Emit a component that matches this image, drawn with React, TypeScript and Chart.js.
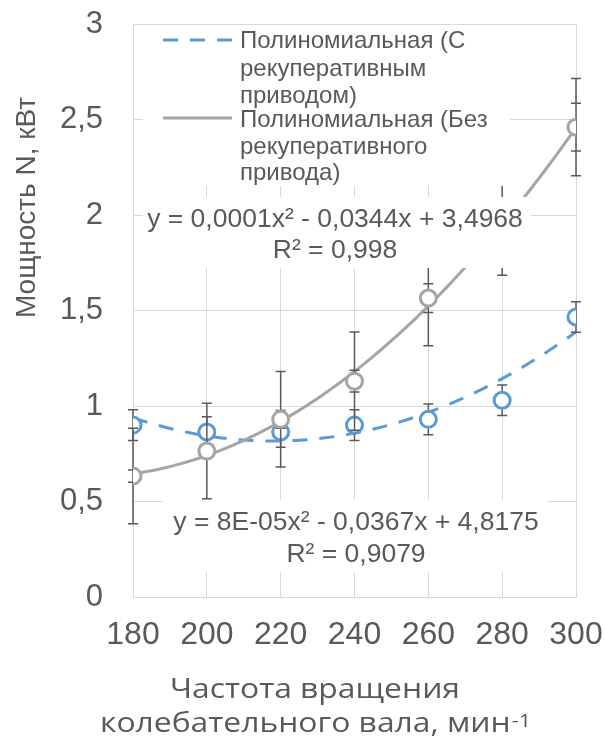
import React, { useEffect, useRef } from 'react';
import { Chart, registerables } from 'chart.js';

Chart.register(...registerables);

// ---------- data ----------
const xValues = [180, 200, 220, 240, 260, 280, 300];
const xTickLabels = ['180', '200', '220', '240', '260', '280', '300'];
const yTickValues = [0, 0.5, 1, 1.5, 2, 2.5, 3];
const yTickLabels = ['0', '0,5', '1', '1,5', '2', '2,5', '3'];

// С рекуперативным приводом (blue)
const withRecup = [0.9, 0.864, 0.864, 0.9, 0.93, 1.03, 1.466];
const withRecupErr = [0.08, 0.08, 0.08, 0.08, 0.08, 0.08, 0.08];

// Без рекуперативного привода (gray)
const withoutRecup = [0.633, 0.764, 0.93, 1.13, 1.565, 1.935, 2.46];
const withoutRecupErrLarge = [0.25, 0.25, 0.25, 0.257, 0.25, 0.25, 0.255];
const withoutRecupErrSmall = [0.032, 0.038, 0.047, 0.057, 0.075, 0.097, 0.125];

const legendWith = ['Полиномиальная (С', 'рекуперативным', 'приводом)'];
const legendWithout = ['Полиномиальная (Без', 'рекуперативного', 'привода)'];
const eqWithout = ['y = 0,0001x² - 0,0344x + 3,4968', 'R² = 0,998'];
const eqWith = ['y = 8E-05x² - 0,0367x + 4,8175', 'R² = 0,9079'];
const yTitle = 'Мощность N, кВт';
const xTitleLine1 = 'Частота вращения';
const xTitleLine2 = 'колебательного вала, мин';
const xTitleSup = '-1';

// ---------- styles ----------
const BLUE = '#5B9BD5';
const GRAY = '#A5A5A5';
const TEXT = '#595959';
const GRID = '#D9D9D9';
const ERR = '#595959';
const ARIAL = '"Liberation Sans", Arial, sans-serif';
const CAL = '"Open Sans", "Noto Sans", sans-serif';

// least-squares quadratic fit (polynomial trendline, as Excel draws it)
function polyfit2(xs: number[], ys: number[]) {
  const n = xs.length;
  const m = xs.reduce((a, b) => a + b, 0) / n;
  const u = xs.map((x) => x - m);
  let s1 = 0, s2 = 0, s3 = 0, s4 = 0, t0 = 0, t1 = 0, t2 = 0;
  for (let i = 0; i < n; i++) {
    const a = u[i];
    s1 += a; s2 += a * a; s3 += a * a * a; s4 += a * a * a * a;
    t0 += ys[i]; t1 += a * ys[i]; t2 += a * a * ys[i];
  }
  const M = [
    [n, s1, s2, t0],
    [s1, s2, s3, t1],
    [s2, s3, s4, t2],
  ];
  for (let c = 0; c < 3; c++) {
    let p = c;
    for (let r = c + 1; r < 3; r++) if (Math.abs(M[r][c]) > Math.abs(M[p][c])) p = r;
    [M[c], M[p]] = [M[p], M[c]];
    for (let r = 0; r < 3; r++) {
      if (r === c) continue;
      const f = M[r][c] / M[c][c];
      for (let k = c; k < 4; k++) M[r][k] -= f * M[c][k];
    }
  }
  const c0 = M[0][3] / M[0][0], c1 = M[1][3] / M[1][1], c2 = M[2][3] / M[2][2];
  return (x: number) => c0 + c1 * (x - m) + c2 * (x - m) * (x - m);
}

function trendPoints(xs: number[], ys: number[]) {
  const f = polyfit2(xs, ys);
  const pts: { x: number; y: number }[] = [];
  for (let x = xs[0]; x <= xs[xs.length - 1]; x += 1) pts.push({ x, y: f(x) });
  return pts;
}

function drawErrorBars(chart: any, values: number[], errs: number[], cap: number, drawStem: boolean) {
  const ctx = chart.ctx;
  const xs = chart.scales.x;
  const ys = chart.scales.y;
  ctx.save();
  ctx.strokeStyle = ERR;
  ctx.lineWidth = 1.5;
  for (let i = 0; i < values.length; i++) {
    const px = xs.getPixelForValue(xValues[i]);
    const top = ys.getPixelForValue(values[i] + errs[i]);
    const bot = ys.getPixelForValue(values[i] - errs[i]);
    ctx.beginPath();
    if (drawStem) {
      ctx.moveTo(px, top);
      ctx.lineTo(px, bot);
    }
    ctx.moveTo(px - cap, top);
    ctx.lineTo(px + cap, top);
    ctx.moveTo(px - cap, bot);
    ctx.lineTo(px + cap, bot);
    ctx.stroke();
  }
  ctx.restore();
}

const overlayPlugin = {
  id: 'overlay',
  beforeDatasetDraw(chart: any, args: any) {
    if (args.index === 1) drawErrorBars(chart, withRecup, withRecupErr, 5, true);
    if (args.index === 3) {
      drawErrorBars(chart, withoutRecup, withoutRecupErrLarge, 5, true);
      drawErrorBars(chart, withoutRecup, withoutRecupErrSmall, 5, false);
    }
  },
  afterDatasetsDraw(chart: any) {
    const ctx = chart.ctx;
    const L = chart.chartArea.left;
    const T = chart.chartArea.top;
    ctx.save();
    // legend box
    ctx.fillStyle = '#ffffff';
    ctx.fillRect(L + 10, T + 1, 367, 161);
    // legend samples
    ctx.lineWidth = 3;
    ctx.strokeStyle = BLUE;
    ctx.setLineDash([15, 12]);
    ctx.beginPath();
    ctx.moveTo(L + 30, T + 16);
    ctx.lineTo(L + 99, T + 16);
    ctx.stroke();
    ctx.setLineDash([]);
    ctx.strokeStyle = GRAY;
    ctx.beginPath();
    ctx.moveTo(L + 30, T + 94);
    ctx.lineTo(L + 99, T + 94);
    ctx.stroke();
    ctx.fillStyle = TEXT;
    ctx.font = `24px ${ARIAL}`;
    ctx.textAlign = 'left';
    ctx.textBaseline = 'alphabetic';
    const withBase = [24, 52, 79];
    const withoutBase = [103, 130, 156];
    legendWith.forEach((t, i) => ctx.fillText(t, L + 107, T + withBase[i]));
    legendWithout.forEach((t, i) => ctx.fillText(t, L + 107, T + withoutBase[i]));

    // upper equation (gray)
    ctx.fillStyle = '#ffffff';
    ctx.fillRect(L + 10, T + 173, 388, 71);
    ctx.fillStyle = TEXT;
    ctx.font = `26.5px ${ARIAL}`;
    ctx.textAlign = 'center';
    ctx.fillText(eqWithout[0], L + 202, T + 203);
    ctx.fillText(eqWithout[1], L + 202, T + 234);

    // lower equation (blue)
    ctx.fillStyle = '#ffffff';
    ctx.fillRect(L + 30, T + 476, 385, 72);
    ctx.fillStyle = TEXT;
    ctx.fillText(eqWith[0], L + 223, T + 506);
    ctx.fillText(eqWith[1], L + 223, T + 538);
    ctx.restore();
  },
  afterDraw(chart: any) {
    const ctx = chart.ctx;
    ctx.save();
    ctx.fillStyle = TEXT;
    // y title
    ctx.font = `28px ${ARIAL}`;
    ctx.textAlign = 'center';
    ctx.textBaseline = 'alphabetic';
    ctx.translate(35, 207.5);
    ctx.rotate(-Math.PI / 2);
    ctx.fillText(yTitle, 0, 0);
    ctx.restore();

    // x title (two lines, superscript)
    ctx.save();
    ctx.fillStyle = TEXT;
    ctx.textBaseline = 'alphabetic';
    ctx.font = `28px ${CAL}`;
    const w1 = ctx.measureText(xTitleLine1).width;
    const sx = 290 / w1;
    const w2 = ctx.measureText(xTitleLine2).width;
    ctx.font = `19px ${CAL}`;
    const ws = ctx.measureText(xTitleSup).width;
    const cx = 315;
    ctx.translate(cx, 0);
    ctx.scale(sx, 1);
    ctx.font = `28px ${CAL}`;
    ctx.textAlign = 'center';
    ctx.fillText(xTitleLine1, 0, 698);
    ctx.textAlign = 'left';
    const start = -(w2 + ws) / 2;
    ctx.fillText(xTitleLine2, start, 732);
    ctx.font = `19px ${CAL}`;
    ctx.fillText(xTitleSup, start + w2 + 1, 727);
    ctx.restore();
  },
};

export default function App() {
  const ref = useRef<HTMLCanvasElement | null>(null);

  useEffect(() => {
    document.body.style.margin = '0';
    const canvas = ref.current;
    if (!canvas) return;
    const chart = new Chart(canvas, {
      type: 'scatter',
      data: {
        datasets: [
          {
            label: 'Полиномиальная (С рекуперативным приводом)',
            data: trendPoints(xValues, withRecup),
            showLine: true,
            borderColor: BLUE,
            borderWidth: 3,
            borderDash: [15, 12],
            pointRadius: 0,
            order: 4,
          },
          {
            label: 'С рекуперативным приводом',
            data: xValues.map((x, i) => ({ x, y: withRecup[i] })),
            showLine: false,
            pointRadius: 8,
            pointBorderWidth: 3,
            pointBorderColor: BLUE,
            pointBackgroundColor: '#ffffff',
            order: 3,
          },
          {
            label: 'Полиномиальная (Без рекуперативного привода)',
            data: trendPoints(xValues, withoutRecup),
            showLine: true,
            borderColor: GRAY,
            borderWidth: 3,
            pointRadius: 0,
            order: 2,
          },
          {
            label: 'Без рекуперативного привода',
            data: xValues.map((x, i) => ({ x, y: withoutRecup[i] })),
            showLine: false,
            pointRadius: 8,
            pointBorderWidth: 3,
            pointBorderColor: GRAY,
            pointBackgroundColor: '#ffffff',
            order: 1,
          },
        ],
      },
      options: {
        responsive: false,
        animation: false,
        devicePixelRatio: 1,
        layout: { padding: { top: 24, right: 29, left: 0, bottom: 0 } },
        plugins: {
          legend: { display: false },
          tooltip: { enabled: false },
        },
        scales: {
          x: {
            type: 'linear',
            min: xValues[0],
            max: xValues[xValues.length - 1],
            afterBuildTicks: (s: any) => {
              s.ticks = xValues.map((v) => ({ value: v }));
            },
            afterFit: (s: any) => {
              s.height = 148;
            },
            ticks: {
              callback: (_v: any, i: number) => xTickLabels[i],
              font: { family: ARIAL, size: 32 },
              color: TEXT,
              padding: 0,
              maxRotation: 0,
              autoSkip: false,
            },
            grid: {
              color: GRID,
              lineWidth: 1,
              drawTicks: true,
              tickLength: 19,
              tickColor: 'rgba(0,0,0,0)',
            },
            border: { color: GRID, width: 1 },
          },
          y: {
            min: 0,
            max: 3,
            afterBuildTicks: (s: any) => {
              s.ticks = yTickValues.map((v) => ({ value: v }));
            },
            afterFit: (s: any) => {
              s.width = 133;
            },
            ticks: {
              callback: (_v: any, i: number) => yTickLabels[i],
              font: { family: ARIAL, size: 31 },
              color: TEXT,
              padding: 0,
              autoSkip: false,
            },
            grid: {
              color: GRID,
              lineWidth: 1,
              drawTicks: true,
              tickLength: 30,
              tickColor: 'rgba(0,0,0,0)',
            },
            border: { color: GRID, width: 1 },
          },
        },
      },
      plugins: [overlayPlugin],
    });
    return () => chart.destroy();
  }, []);

  return (
    <div style={{ width: 605, height: 745 }}>
      <canvas ref={ref} width={605} height={745} />
    </div>
  );
}
